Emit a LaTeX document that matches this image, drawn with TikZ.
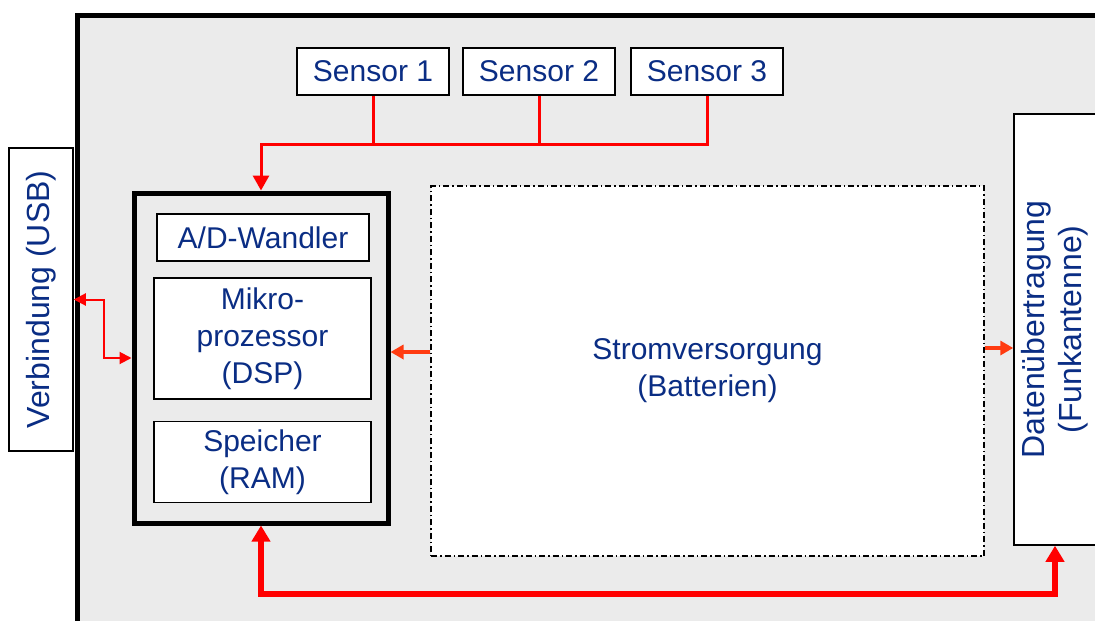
\documentclass[tikz,border=0pt]{standalone}
\usepackage{fontspec}
\setmainfont{Liberation Sans}
\usepackage{tikz}
\usetikzlibrary{arrows.meta,positioning}
\definecolor{navy}{HTML}{0A2D84}
\definecolor{sigred}{HTML}{FF0000}
\definecolor{pwrred}{HTML}{FF3B10}
\definecolor{casegray}{HTML}{EBEBEB}

\begin{document}
\begin{tikzpicture}[x=1pt, y=-1pt,
font=\fontsize{30}{37}\selectfont,
unit/.style={draw, line width=1.5pt, fill=white, text=navy, align=center, inner sep=0pt},
sensorbox/.style={unit, minimum width=152pt, minimum height=47pt},
innerbox/.style={unit, minimum width=217pt},
sidebox/.style={unit, rotate=90, font=\fontsize{32}{37}\selectfont},
signal/.style={draw=sigred, line width=3pt},
usbline/.style={draw=sigred, line width=2pt, {Triangle[length=12pt,width=12pt]}-{Triangle[length=12pt,width=12pt]}},
supply/.style={draw=pwrred, line width=3.5pt, -{Triangle[length=13pt,width=14pt]}},
databus/.style={draw=sigred, line width=6pt, {Triangle[length=16pt,width=18pt]}-{Triangle[length=16pt,width=18pt]}}
]
\useasboundingbox (0,0) rectangle (1095,621);
\clip (0,0) rectangle (1095,621);
% housing
\draw[line width=5pt, fill=casegray] (77,15) rectangle (1140,660);

\node[sensorbox] (s1) at (373,71.5) {Sensor 1};
\node[sensorbox, right=12.5pt of s1] (s2) {Sensor 2};
\node[sensorbox, right=14.5pt of s2] (s3) {Sensor 3};

\node[sidebox, minimum width=303pt, minimum height=64pt] (usb) at (41,299.5) {Verbindung (USB)};
\node[sidebox, minimum width=431pt, minimum height=82pt] (radio) at (1055,329.5) {Datenübertragung\\(Funkantenne)};

\node[draw, line width=5pt, fill=casegray, minimum width=254pt, minimum height=330pt] (mcu) at (261,358) {};
\node[unit, minimum width=212pt, minimum height=47pt] (adc) at (263,237.5) {A/D-Wandler};
\node[innerbox, minimum height=121pt] (cpu) at (262.5,338.5) {Mikro-\\prozessor\\(DSP)};
\node[innerbox, minimum height=81pt, below=21pt of cpu] (ram) {Speicher\\(RAM)};

\node[unit, text=navy, dash pattern=on 6pt off 3pt on 1.5pt off 3pt, minimum width=553pt, minimum height=370pt] (pwr) at (707.5,371) {Stromversorgung\\(Batterien)};

% sensors
\draw[signal] (s1.south) -- ++(0,49);
\draw[signal] (s2.south) -- ++(0,49);
\draw[signal, -{Triangle[length=15pt,width=16pt]}] (s3.south) -- ++(0,49) -| (mcu.north);

% usb
\draw[usbline] (usb.south) -- ++(30,0) |- (mcu.west);

% power
\path ([yshift=19pt]pwr.west) coordinate (pw);
\path ([yshift=23pt]pwr.east) coordinate (pe);
\draw[supply] (pw) -- (pw -| mcu.east);
\draw[supply] (pe) -- (pe -| radio.north);

% data
\draw[databus] (mcu.south) -- ++(0,68) -| (radio.west);
\end{tikzpicture}
\end{document}
